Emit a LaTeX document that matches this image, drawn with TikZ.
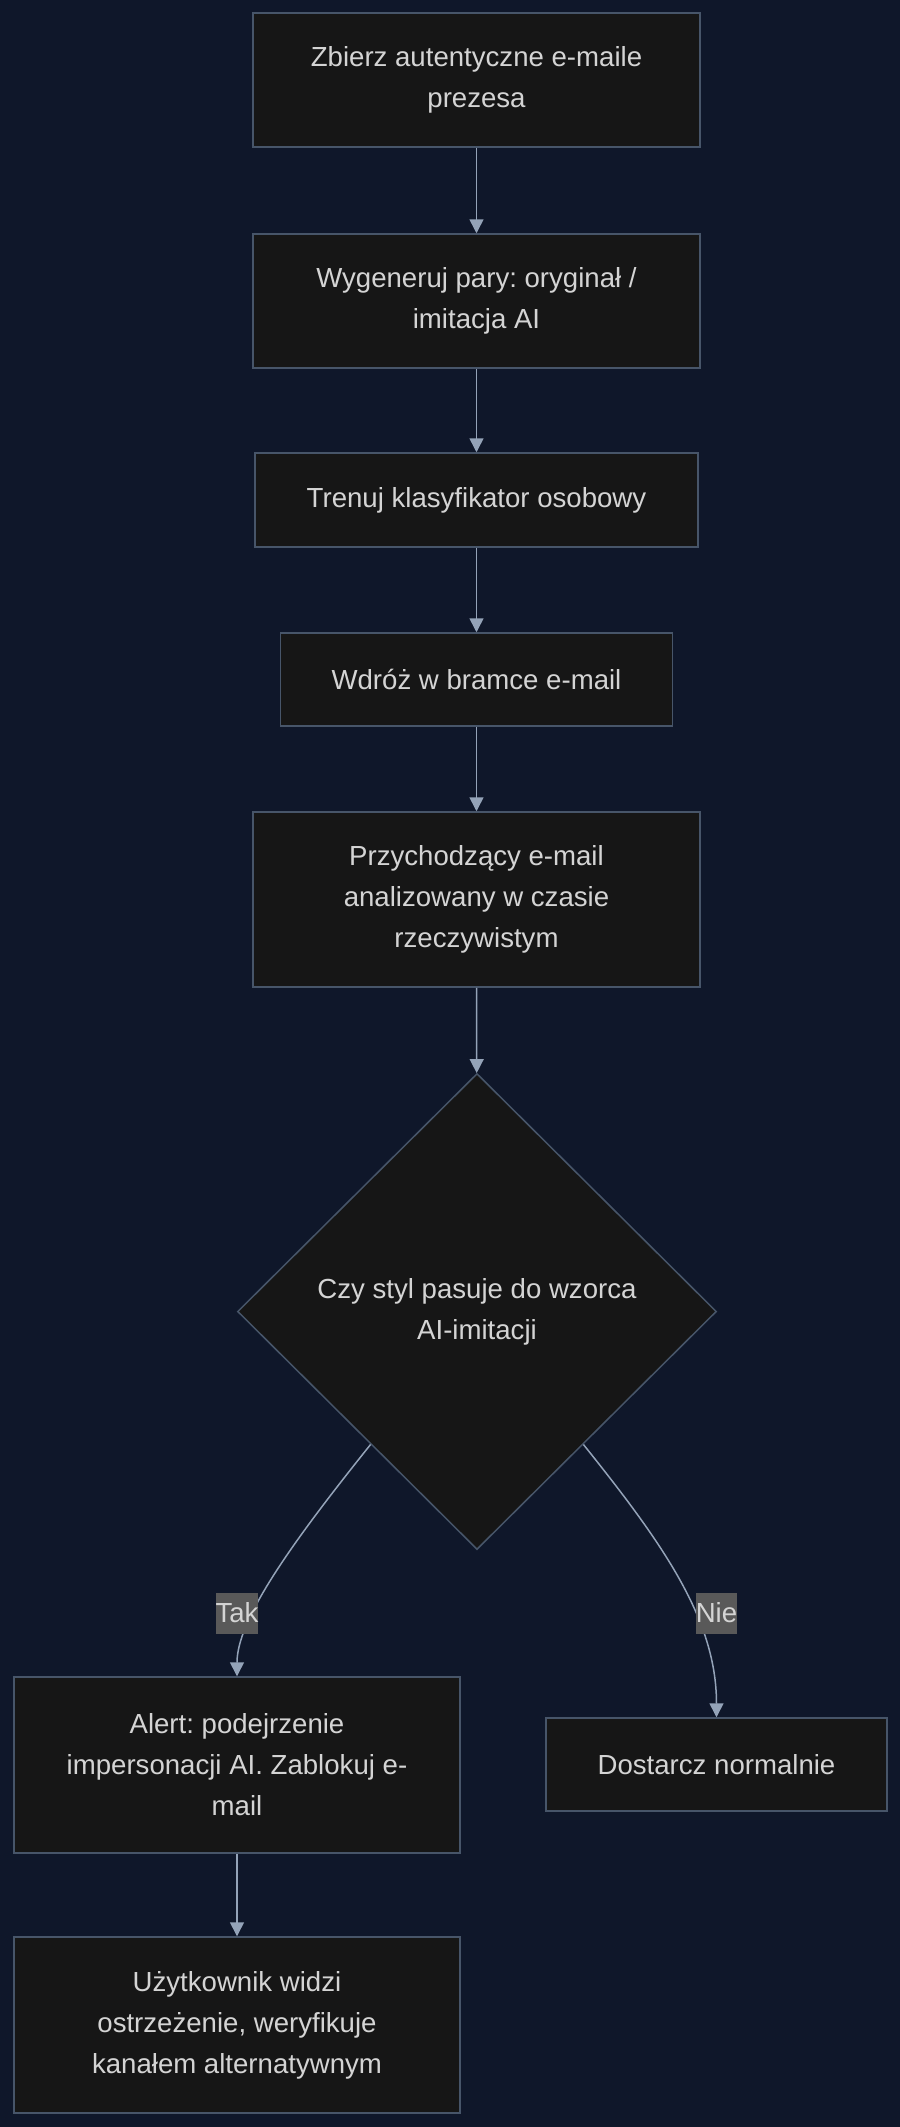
\documentclass[tikz,border=0pt]{standalone}
\usepackage{fontspec}
\setmainfont{Liberation Sans}
\usepackage{tikz}
\usetikzlibrary{arrows.meta,positioning,shapes.geometric,calc}
\frenchspacing
\definecolor{bgnavy}{HTML}{0F172A}
\definecolor{boxfill}{HTML}{161616}
\definecolor{boxline}{HTML}{475569}
\definecolor{edgecol}{HTML}{94A3B8}
\definecolor{txtcol}{HTML}{D4D4D4}
\definecolor{lblfill}{HTML}{595959}
\tikzset{
  box/.style={draw=boxline, line width=0.75pt, fill=boxfill, rectangle, align=center, text=txtcol, font=\fontsize{13.8}{20.5}\selectfont, inner sep=0pt},
  decision/.style={draw=boxline, line width=0.75pt, fill=boxfill, diamond, aspect=1, align=center, text=txtcol, font=\fontsize{13.8}{20.5}\selectfont, inner sep=0pt, minimum width=239.5pt, minimum height=238pt},
  arrow/.style={-{Triangle[length=7pt,width=7pt]}, draw=edgecol, line width=0.75pt},
  lbl/.style={fill=lblfill, text=txtcol, font=\fontsize{13.8}{20.5}\selectfont, inner xsep=0pt, inner ysep=0pt, minimum height=20.5pt}
}
\begin{document}
\begin{tikzpicture}[x=0.5pt,y=-0.5pt]
  \fill[bgnavy] (0,0) rectangle (900,2127);
  \node[box, minimum width=223.5pt, minimum height=67pt] (collect) at (476.5,80) {Zbierz autentyczne e-maile\\prezesa};
  \node[box, minimum width=223.5pt, minimum height=67pt] (pairs) at (476.5,301) {Wygeneruj pary: oryginał /\\imitacja AI};
  \node[box, minimum width=221.5pt, minimum height=47pt] (train) at (476.5,500) {Trenuj klasyfikator osobowy};
  \node[box, minimum width=196pt, minimum height=46.5pt] (deploy) at (476.5,679.5) {Wdróż w bramce e-mail};
  \node[box, minimum width=223.5pt, minimum height=87.5pt] (incoming) at (476.5,899.5) {Przychodzący e-mail\\analizowany w czasie\\rzeczywistym};
  \node[decision] (match) at (477,1311.5) {Czy styl pasuje do wzorca\\AI-imitacji};
  \node[box, minimum width=223pt, minimum height=88pt] (alert) at (237,1765) {Alert: podejrzenie\\impersonacji AI. Zablokuj e-\\mail};
  \node[box, minimum width=170.5pt, minimum height=46.5pt] (deliver) at (716.5,1764.5) {Dostarcz normalnie};
  \node[box, minimum width=223pt, minimum height=88pt] (user) at (237,2025) {Użytkownik widzi\\ostrzeżenie, weryfikuje\\kanałem alternatywnym};
  \draw[arrow] (collect) -- (pairs);
  \draw[arrow] (pairs) -- (train);
  \draw[arrow] (train) -- (deploy);
  \draw[arrow] (deploy) -- (incoming);
  \draw[arrow] (incoming) -- (match);
  \coordinate (yesout) at ($(match.west)!0.557!(match.south)$);
  \coordinate (noout) at ($(match.east)!0.557!(match.south)$);
  \draw[arrow] (yesout) .. controls (290,1545) and (237,1620) .. (alert.north);
  \draw[arrow] (noout) .. controls (664,1545) and (716.5,1620) .. (deliver.north);
  \draw[arrow] (alert) -- (user);
  \node[lbl] (yes) at (237,1613) {Tak};
  \node[lbl] (no) at (716.5,1613) {Nie};
\end{tikzpicture}
\end{document}
